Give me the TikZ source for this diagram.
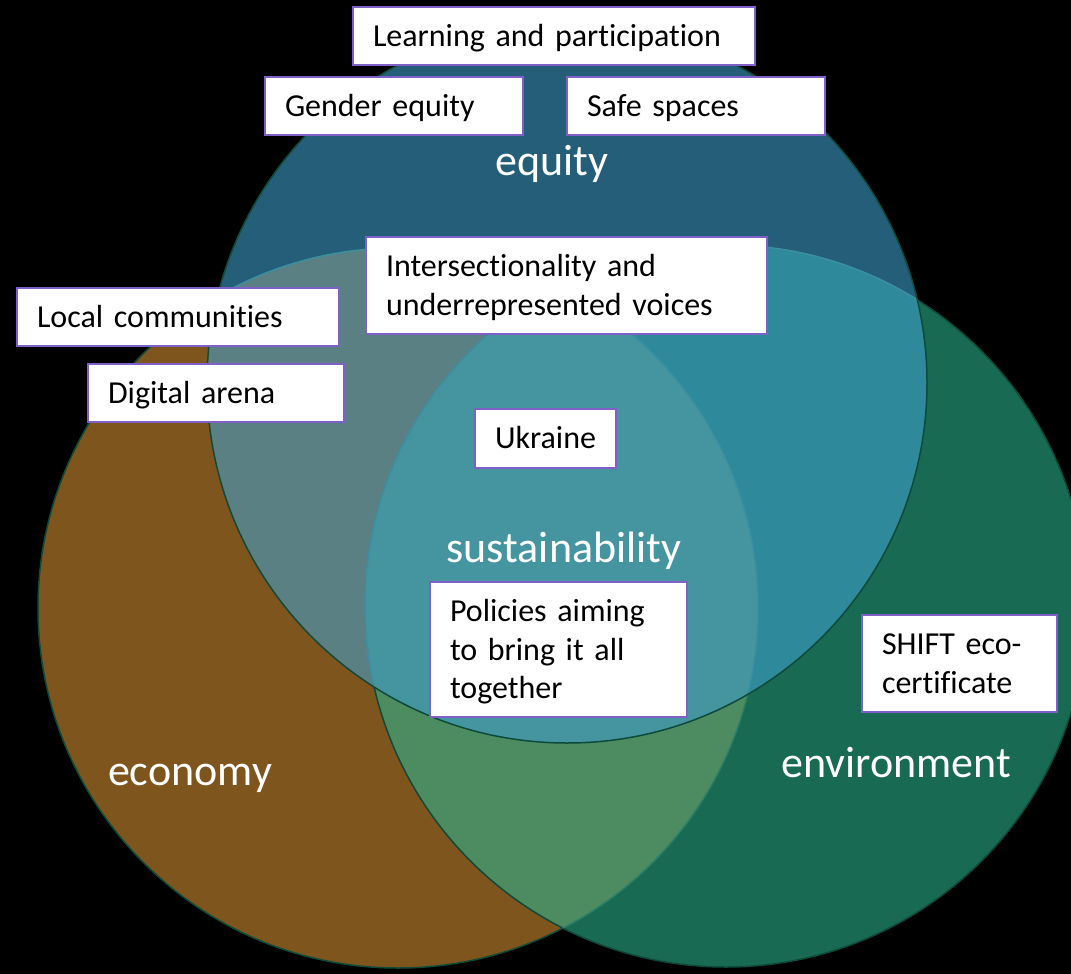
\documentclass[tikz,border=0pt]{standalone}
\usepackage{fontspec}
\setmainfont{Carlito}[Ligatures=NoCommon, WordSpace=0.8]
\usetikzlibrary{positioning}

\definecolor{ecofill}{RGB}{126,85,29}
\definecolor{envfill}{RGB}{24,106,82}
\definecolor{eqfill}{RGB}{37,94,121}
\definecolor{ecoenv}{RGB}{77,139,96}
\definecolor{ecoeq}{RGB}{90,128,132}
\definecolor{enveq}{RGB}{46,137,155}
\definecolor{allthree}{RGB}{69,149,160}
\definecolor{rim}{RGB}{14,74,58}
\definecolor{softrim}{RGB}{44,128,104}
\definecolor{inrim}{RGB}{58,143,160}
\definecolor{tagline}{RGB}{127,96,200}

\begin{document}
\begin{tikzpicture}[x=1pt, y=-1pt,
	tag/.style={draw=tagline, line width=2pt, fill=white, rectangle, anchor=north west, outer sep=0pt,
		inner xsep=20pt, inner ysep=0pt, text height=39.5pt,
		align=left, text=black, font=\fontsize{32pt}{38.5pt}\selectfont},
	lbl/.style={anchor=base, text=white, font=\fontsize{44pt}{53pt}\selectfont}]
		\def\eco{(398,608) circle (360pt)}
		\def\env{(726,606) circle (361pt)}
		\def\eq{(567,383) circle (360pt)}

		\useasboundingbox (0,0) rectangle (1071,974);
		\fill[black] (0,0) rectangle (1071,974);

		\begin{scope}[line width=1.5pt]
			\filldraw[fill=ecofill, draw=rim] \eco;
			\fill[envfill] \env;
			\begin{scope}
				\clip \eco;
				\fill[ecoenv] \env;
			\end{scope}
			\draw[rim] \env;
			\begin{scope}
				\clip \env;
				\draw[softrim] \eco;
			\end{scope}

			\fill[eqfill] \eq;
			\begin{scope}
				\clip \eq;
				\fill[ecoeq] \eco;
				\fill[enveq] \env;
				\clip \eco;
				\fill[allthree] \env;
			\end{scope}
			\begin{scope}
				\clip \eq;
				\draw[inrim] \eco;
				\draw[inrim] \env;
			\end{scope}
			\draw[rim] \eq;
		\end{scope}

		\node[lbl] (equity) at (552,175) {equity};
		\node[lbl] (sust) at (564,562) {sustainability};
		\node[lbl] (economy) at (190,785) {economy};
		\node[lbl] (environment) at (896,777) {environment};

		\node[tag, text width=362pt, text depth=18.5pt] (learning) at (353,7) {Learning and participation};
		\node[tag, text width=218pt, text depth=18.5pt] (gender) at (265,77) {Gender equity};
		\node[tag, text width=218pt, text depth=18.5pt] (safe) at (567,77) {Safe spaces};
		\node[tag, text width=361pt, text depth=57.5pt] (voices) at (366,237) {Intersectionality and\\underrepresented voices};
		\node[tag, text width=282pt, text depth=18.5pt] (local) at (17,288) {Local communities};
		\node[tag, text width=216pt, text depth=18.5pt] (digital) at (88,364) {Digital arena};
		\node[tag, text width=101pt, text depth=19.5pt] (ukraine) at (475,409) {Ukraine};
		\node[tag, text width=217pt, text depth=95.5pt] (policies) at (430,582) {Policies aiming\\to bring it all\\together};
		\node[tag, text width=155pt, text depth=57.5pt] (shift) at (862,615) {SHIFT eco-\\certificate};
	\end{tikzpicture}
\end{document}
